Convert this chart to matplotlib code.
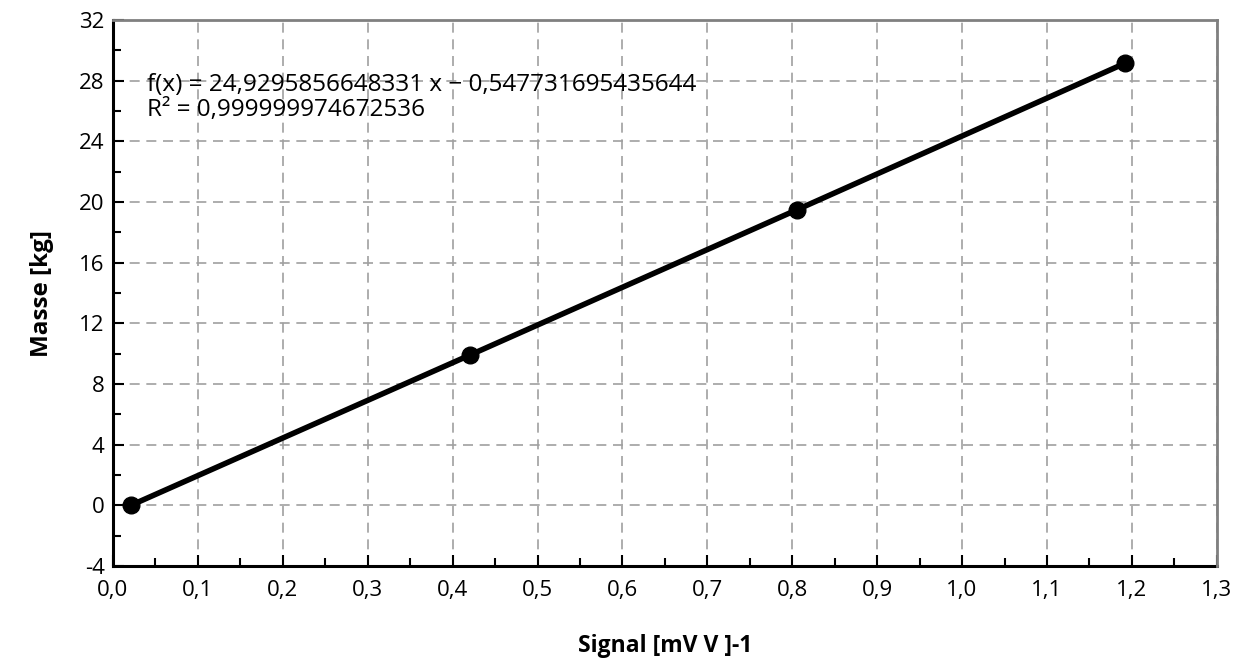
import matplotlib.pyplot as plt
from matplotlib.ticker import MultipleLocator, FuncFormatter

signal = [0.021, 0.420, 0.806, 1.192]
masse = [0.0, 9.9, 19.5, 29.15]
fit_text = "f(x) = 24,9295856648331 x − 0,547731695435644\nR² = 0,999999974672536"

plt.rcParams["font.family"] = ["Open Sans", "DejaVu Sans"]
plt.rcParams["font.size"] = 16

fig = plt.figure(figsize=(12.43, 6.58), dpi=100)
ax = fig.add_axes([0.0909, 0.1398, 0.888, 0.8298])

ax.plot(signal, masse, color="black", linewidth=4, marker="o", markersize=12, zorder=3)

ax.set_xlim(0, 1.3)
ax.set_ylim(-4, 32)
ax.xaxis.set_major_locator(MultipleLocator(0.1))
ax.xaxis.set_minor_locator(MultipleLocator(0.05))
ax.yaxis.set_major_locator(MultipleLocator(4))
ax.yaxis.set_minor_locator(MultipleLocator(2))
ax.xaxis.set_major_formatter(FuncFormatter(lambda v, p: f"{v:.1f}".replace(".", ",")))
ax.yaxis.set_major_formatter(FuncFormatter(lambda v, p: f"{v:.0f}"))

ax.tick_params(which="major", direction="in", length=8, width=1.5, labelsize=16)
ax.tick_params(axis="x", which="major", pad=10)
ax.tick_params(axis="y", which="major", pad=6)
ax.tick_params(which="minor", direction="in", length=6, width=1.5)
ax.grid(True, which="major", color="#a0a0a0", linestyle=(0, (6, 4)), linewidth=1.2)

for side in ("left", "bottom"):
    ax.spines[side].set_linewidth(2.2)
    ax.spines[side].set_color("black")
for side in ("top", "right"):
    ax.spines[side].set_linewidth(2)
    ax.spines[side].set_color("#808080")
    ax.spines[side].set_zorder(4)

ax.text(0.04, 26.9, fit_text, fontsize=17.5, linespacing=1.05, va="center", ha="left")

ax.set_xlabel("Signal [mV V ]-1", fontsize=16.5, fontweight="bold", labelpad=24)
ax.set_ylabel("Masse [kg]", fontsize=17.5, fontweight="bold", labelpad=18)

fig.savefig("out.png", dpi=100)
